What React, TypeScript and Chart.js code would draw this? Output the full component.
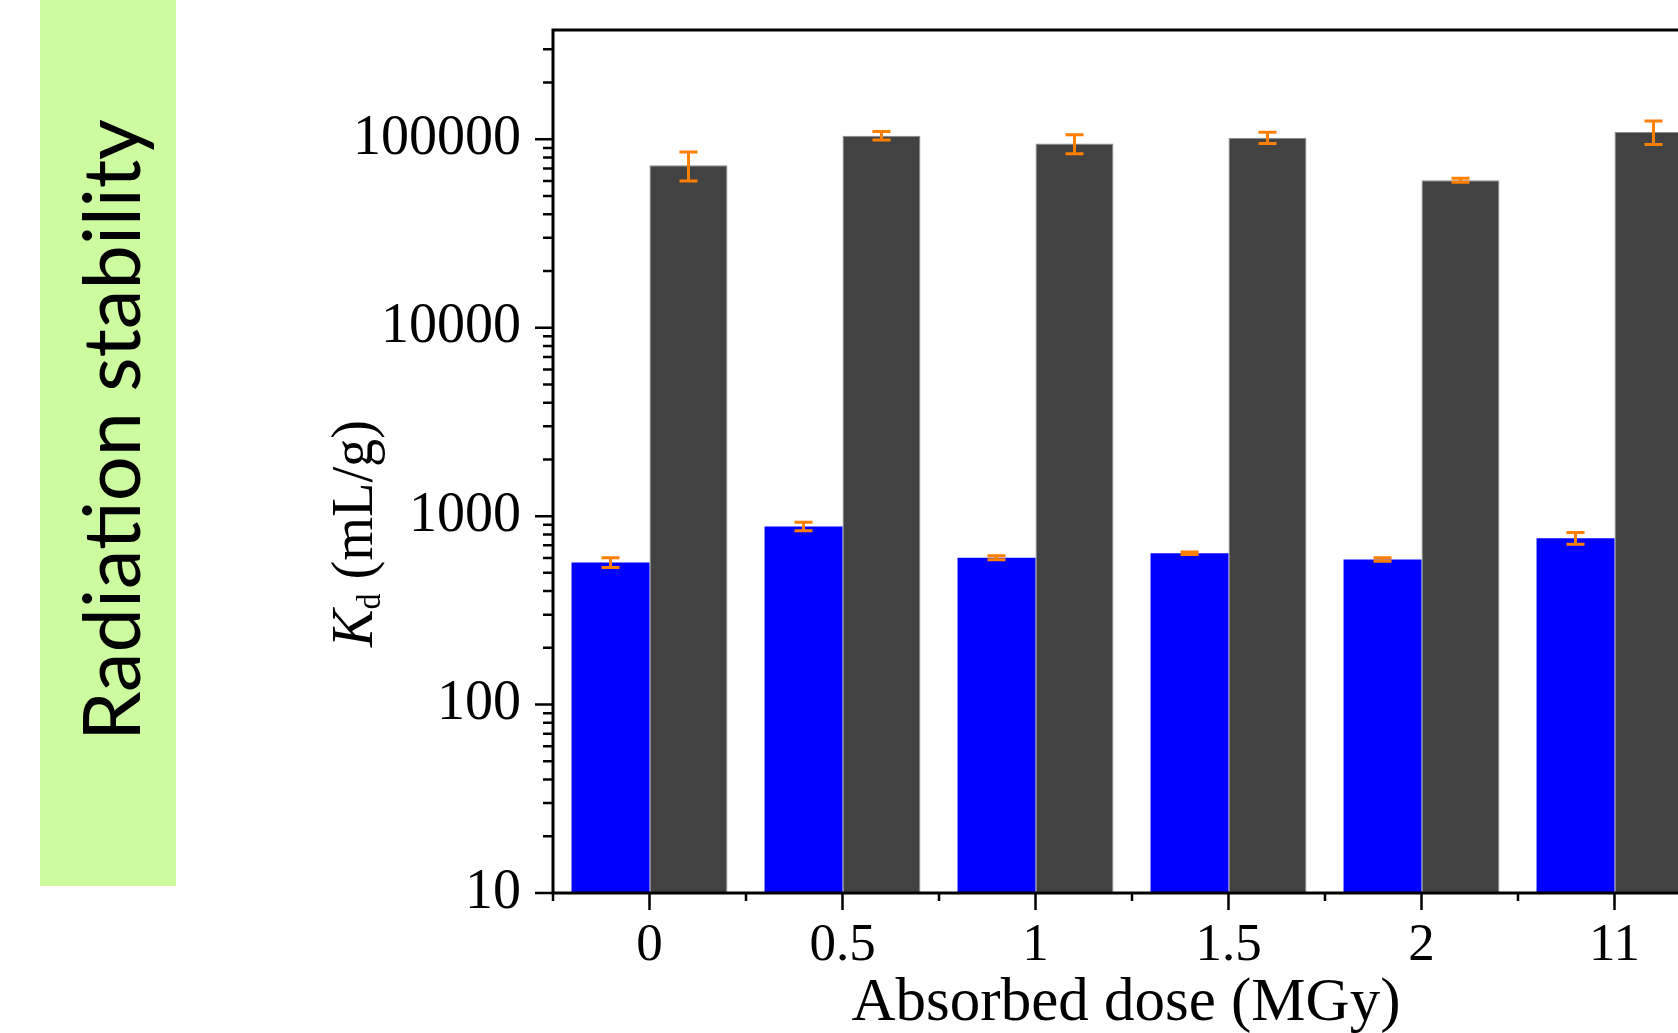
import React, { useEffect, useRef } from "react";
import { Chart, registerables } from "chart.js";

Chart.register(...registerables);

// ---- data ----
const categories = ["0", "0.5", "1", "1.5", "2", "11"];
const blueValues = [568, 882, 601, 636, 589, 764];
const blueErrors = [34, 45, 15, 10, 12, 55];
const darkValues = [72800, 104500, 94800, 102000, 60600, 109300];
const darkErrors = [12800, 5300, 11000, 7000, 1500, 15500];
const yTickValues = [10, 100, 1000, 10000, 100000];
const yMinorMultipliers = [2, 3, 4, 5, 6, 7, 8, 9];
const yMin = 10;
const yMax = 380000;
const xTitle = "Absorbed dose (MGy)";
const yTitleMain = "K";
const yTitleSub = "d";
const yTitleRest = " (mL/g)";
const sideLabel = "Radiation stability";

const SERIF = "'Liberation Serif', 'Times New Roman', serif";
const CANVAS_W = 1720;
const CANVAS_H = 1033;

const decorPlugin = {
  id: "decor",
  beforeDraw(chart: any) {
    const ctx = chart.ctx;
    ctx.save();
    ctx.fillStyle = "#ffffff";
    ctx.fillRect(0, 0, chart.width, chart.height);
    // green side panel
    ctx.fillStyle = "rgb(204,251,160)";
    ctx.fillRect(40, 0, 136, 886);
    ctx.translate(140, 430);
    ctx.rotate(-Math.PI / 2);
    ctx.fillStyle = "#000";
    ctx.font = "80px Lato, 'Open Sans', sans-serif";
    ctx.textAlign = "center";
    ctx.textBaseline = "alphabetic";
    ctx.fillText(sideLabel, 0, 0, 622);
    ctx.restore();

    // y axis title with italic K and subscript d
    ctx.save();
    ctx.translate(372, 533.5);
    ctx.rotate(-Math.PI / 2);
    const mainFont = `60px ${SERIF}`;
    const italicFont = `italic 60px ${SERIF}`;
    const subFont = `34px ${SERIF}`;
    ctx.font = italicFont;
    const wK = ctx.measureText(yTitleMain).width;
    ctx.font = subFont;
    const wD = ctx.measureText(yTitleSub).width;
    ctx.font = mainFont;
    const wR = ctx.measureText(yTitleRest).width;
    const total = wK + wD + wR;
    ctx.scale(227 / total, 1);
    let x0 = -total / 2;
    ctx.fillStyle = "#000";
    ctx.textAlign = "left";
    ctx.textBaseline = "alphabetic";
    ctx.font = italicFont;
    ctx.fillText(yTitleMain, x0, 0);
    x0 += wK;
    ctx.font = subFont;
    ctx.fillText(yTitleSub, x0, 8);
    x0 += wD;
    ctx.font = mainFont;
    ctx.fillText(yTitleRest, x0, 0);
    ctx.restore();

    // x axis title
    ctx.save();
    ctx.fillStyle = "#000";
    ctx.font = `61px ${SERIF}`;
    ctx.textAlign = "center";
    ctx.textBaseline = "alphabetic";
    ctx.fillText(xTitle, 1126, 1020);
    ctx.restore();
  },
  afterDatasetsDraw(chart: any) {
    const ctx = chart.ctx;
    const y = chart.scales.y;
    const errs = [blueErrors, darkErrors];
    ctx.save();
    ctx.strokeStyle = "#FF7F00";
    ctx.lineWidth = 3;
    chart.data.datasets.forEach((ds: any, i: number) => {
      const meta = chart.getDatasetMeta(i);
      meta.data.forEach((bar: any, j: number) => {
        const v = ds.data[j];
        const e = errs[i][j];
        const yt = y.getPixelForValue(v + e);
        const yb = y.getPixelForValue(v - e);
        const cx = bar.x;
        const hw = 9;
        ctx.beginPath();
        ctx.moveTo(cx, yt);
        ctx.lineTo(cx, yb);
        ctx.moveTo(cx - hw, yt);
        ctx.lineTo(cx + hw, yt);
        ctx.moveTo(cx - hw, yb);
        ctx.lineTo(cx + hw, yb);
        ctx.stroke();
      });
    });
    ctx.restore();
  },
  afterDraw(chart: any) {
    const ctx = chart.ctx;
    const { left, top, bottom } = chart.chartArea;
    const x = chart.scales.x;
    const y = chart.scales.y;
    ctx.save();
    ctx.strokeStyle = "#000";
    ctx.lineWidth = 3;
    ctx.beginPath();
    ctx.moveTo(left - 1.5, top);
    ctx.lineTo(chart.width, top);
    ctx.moveTo(left - 1.5, bottom);
    ctx.lineTo(chart.width, bottom);
    ctx.moveTo(left, top - 1.5);
    ctx.lineTo(left, bottom + 1.5);
    ctx.stroke();

    ctx.lineWidth = 2.5;
    ctx.beginPath();
    yTickValues.forEach((d) => {
      const py = y.getPixelForValue(d);
      ctx.moveTo(left - 18, py);
      ctx.lineTo(left, py);
      yMinorMultipliers.forEach((m) => {
        const v = d * m;
        if (v > yMax) return;
        const p = y.getPixelForValue(v);
        ctx.moveTo(left - 10, p);
        ctx.lineTo(left, p);
      });
    });
    const n = categories.length;
    const half = (x.getPixelForValue(1) - x.getPixelForValue(0)) / 2;
    for (let i = 0; i < n; i++) {
      const p = x.getPixelForValue(i);
      ctx.moveTo(p, bottom);
      ctx.lineTo(p, bottom + 17);
      const b = p - half;
      ctx.moveTo(b, bottom);
      ctx.lineTo(b, bottom + 8);
    }
    ctx.stroke();
    ctx.restore();
  },
};

export default function App() {
  const ref = useRef<HTMLCanvasElement | null>(null);

  useEffect(() => {
    if (!ref.current) return;
    const chart = new Chart(ref.current, {
      type: "bar",
      data: {
        labels: categories,
        datasets: [
          {
            label: "Series 1",
            data: blueValues,
            backgroundColor: "#0000FF",
            borderWidth: 0,
            categoryPercentage: 0.808,
            barPercentage: 1,
          },
          {
            label: "Series 2",
            data: darkValues,
            backgroundColor: "#424242",
            borderColor: "#8c8c8c",
            borderWidth: 1,
            categoryPercentage: 0.808,
            barPercentage: 1,
          },
        ],
      },
      options: {
        responsive: false,
        animation: false,
        devicePixelRatio: 1,
        layout: { padding: { left: 0, top: 30, right: CANVAS_W - 1711, bottom: 0 } },
        plugins: {
          legend: { display: false },
          tooltip: { enabled: false },
        },
        scales: {
          x: {
            type: "category",
            offset: true,
            grid: { display: false, drawTicks: false },
            border: { display: false },
            ticks: {
              autoSkip: false,
              maxRotation: 0,
              padding: 27,
              color: "#000",
              font: { family: SERIF, size: 53, lineHeight: 1 },
            },
            afterFit: (scale: any) => {
              scale.height = 140;
              scale.paddingLeft = 0;
              scale.paddingRight = 0;
            },
          },
          y: {
            type: "logarithmic",
            min: yMin,
            max: yMax,
            grid: { display: false, drawTicks: false },
            border: { display: false },
            afterBuildTicks: (scale: any) => {
              scale.ticks = yTickValues.map((v) => ({ value: v }));
            },
            afterFit: (scale: any) => {
              scale.width = 553;
              scale.paddingTop = 0;
              scale.paddingBottom = 0;
            },
            ticks: {
              autoSkip: false,
              padding: 32,
              color: "#000",
              font: { family: SERIF, size: 56, lineHeight: 1 },
              callback: (v: any) => String(v),
            },
          },
        },
      } as any,
      plugins: [decorPlugin],
    });
    return () => chart.destroy();
  }, []);

  return (
    <div
      style={{
        position: "fixed",
        left: 0,
        top: 0,
        width: 1678,
        height: 1033,
        overflow: "hidden",
        background: "#fff",
      }}
    >
      <canvas
        ref={ref}
        width={CANVAS_W}
        height={CANVAS_H}
        style={{ display: "block", width: CANVAS_W, height: CANVAS_H }}
      />
    </div>
  );
}
